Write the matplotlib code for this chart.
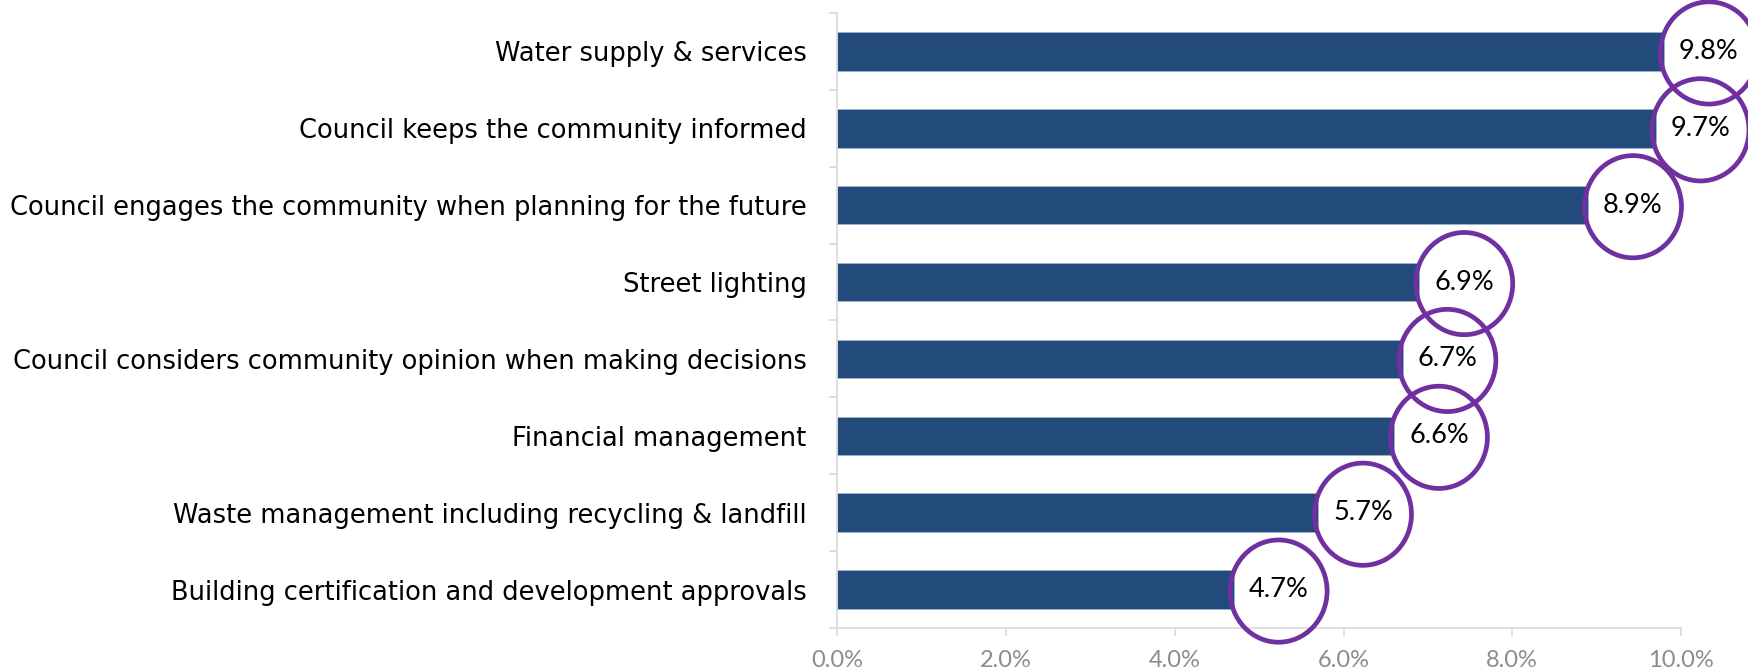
import matplotlib
matplotlib.use("Agg")
import matplotlib.pyplot as plt
from matplotlib.patches import Ellipse
from matplotlib.ticker import FuncFormatter, MultipleLocator

NAVY = "#224a7b"
PURPLE = "#7030a0"
GREY = "#d9d9d9"

categories = [
    "Water supply & services",
    "Council keeps the community informed",
    "Council engages the community when planning for the future",
    "Street lighting",
    "Council considers community opinion when making decisions",
    "Financial management",
    "Waste management including recycling & landfill",
    "Building certification and development approvals",
]
values = [9.8, 9.7, 8.9, 6.9, 6.7, 6.6, 5.7, 4.7]

plt.rcParams["font.family"] = ["DejaVu Sans"]

fig = plt.figure(figsize=(17.48, 6.69), dpi=100)
ax = fig.add_axes([0.479, 0.0613, 0.4827, 0.9193])

ypos = list(range(len(categories)))[::-1]
ax.barh(ypos, values, height=0.5, color=NAVY, edgecolor="#9fb3cc", linewidth=0.6)

# value labels ringed in purple
for y, v in zip(ypos, values):
    ax.add_patch(Ellipse((v + 0.53, y - 0.02), 1.15, 1.33, fill=False, edgecolor=PURPLE,
                         linewidth=3.4, clip_on=False, zorder=3))
    ax.text(v + 0.53, y, f"{v:.1f}%", ha="center", va="center", fontsize=19.5,
            color="black", family="Lato", zorder=4)

ax.set_xlim(0, 10)
ax.set_ylim(-0.5, len(categories) - 0.5)
ax.xaxis.set_major_locator(MultipleLocator(2))
ax.xaxis.set_major_formatter(FuncFormatter(lambda x, _: f"{x:.1f}%"))

ax.set_yticks(ypos)
ax.set_yticklabels(categories, fontsize=18.5)
ax.set_yticks([y + 0.5 for y in range(-1, len(categories))], minor=True)
ax.tick_params(axis="y", which="major", length=0, pad=22)
ax.tick_params(axis="y", which="minor", length=6, color=GREY, width=1.2)
ax.tick_params(axis="x", length=6, color=GREY, width=1.2, labelsize=17,
               labelcolor="#8c8c8c", pad=10)
for lbl in ax.get_xticklabels():
    lbl.set_family("Lato")

for side in ("top", "right"):
    ax.spines[side].set_visible(False)
for side in ("left", "bottom"):
    ax.spines[side].set_color(GREY)
    ax.spines[side].set_linewidth(1.2)

fig.savefig("out.png", dpi=100)
